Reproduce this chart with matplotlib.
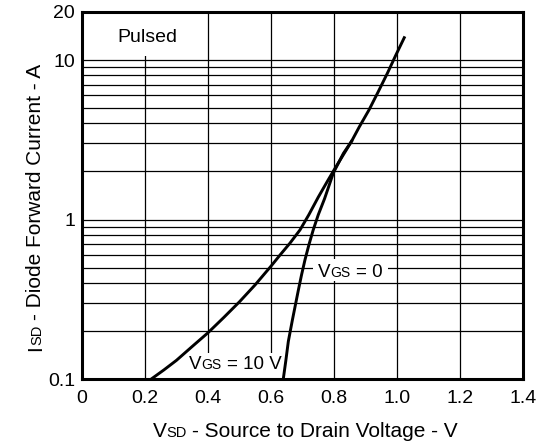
import matplotlib
matplotlib.use("Agg")
import matplotlib.pyplot as plt
from matplotlib.patches import Rectangle

plt.rcParams['font.family'] = ['Liberation Sans', 'DejaVu Sans']

# Data (V_SD in volts, I_SD in amps)
vsd_10v = [0.22, 0.26, 0.30, 0.35, 0.40, 0.45, 0.50, 0.55, 0.60, 0.629, 0.66, 0.692,
           0.72, 0.75, 0.78, 0.803, 0.84, 0.856, 0.88, 0.911, 0.94, 0.97, 0.995, 1.023]
isd_10v = [0.10, 0.114, 0.131, 0.16, 0.195, 0.243, 0.305, 0.39, 0.51, 0.60, 0.71, 0.86,
           1.07, 1.38, 1.75, 2.09, 2.75, 3.1, 3.8, 4.86, 6.3, 8.3, 10.6, 13.8]

vsd_0v = [0.639, 0.647, 0.655, 0.668, 0.678, 0.687, 0.697, 0.708, 0.72, 0.734,
          0.75, 0.77, 0.798, 0.83, 0.856]
isd_0v = [0.10, 0.13, 0.172, 0.235, 0.295, 0.362, 0.45, 0.56, 0.69, 0.86,
          1.07, 1.35, 1.96, 2.6, 3.1]

x_ticks = [0, 0.2, 0.4, 0.6, 0.8, 1.0, 1.2, 1.4]
x_ticklabels = ['0', '0.2', '0.4', '0.6', '0.8', '1.0', '1.2', '1.4']
y_ticks = [0.1, 1, 10, 20]
y_ticklabels = ['0.1', '1', '10', '20']
h_grid = [0.2, 0.3, 0.4, 0.5, 0.6, 0.7, 0.8, 0.9, 1, 2, 3, 4, 5, 6, 7, 8, 9, 10]
v_grid = [0.2, 0.4, 0.6, 0.8, 1.0, 1.2]

W, H = 552, 446
fig = plt.figure(figsize=(W / 100, H / 100), dpi=100)
ax = fig.add_axes([82 / W, 1 - 379 / H, (523 - 82) / W, (379 - 12) / H])
ax.set_yscale('log')
ax.set_xlim(0, 1.4)
ax.set_ylim(0.1, 20)

for v in v_grid:
    ax.axvline(v, color='black', lw=0.9, zorder=1)
for h in h_grid:
    ax.axhline(h, color='black', lw=0.9, zorder=1)

ax.plot(vsd_10v, isd_10v, color='black', lw=2.1, zorder=5, solid_joinstyle='round')
ax.plot(vsd_0v, isd_0v, color='black', lw=2.1, zorder=5, solid_joinstyle='round')

ax.set_xticks(x_ticks)
ax.set_xticklabels(x_ticklabels)
ax.set_yticks(y_ticks)
ax.set_yticklabels(y_ticklabels)
ax.minorticks_off()
ax.tick_params(length=0, labelsize=14, pad=8)
ax.tick_params(axis='y', pad=5)
for sp in ax.spines.values():
    sp.set_linewidth(2.2)

# white area behind "Pulsed"
ax.add_patch(Rectangle((0, 10.6), 0.3, 9.4, facecolor='white', edgecolor='none', zorder=2))
ax.text(0.112, 13.0, 'Pulsed', fontsize=14, ha='left', va='baseline', zorder=3)

fig.canvas.draw()
r = fig.canvas.get_renderer()


def rich(parts, x0, y0, rotation=0, zorder=3):
    # parts: (text, size, gap after in px); x0 start / y0 baseline in pixels from top-left
    texts = []
    pos = 0
    for s, size, gap in parts:
        if rotation == 0:
            t = fig.text((x0 + pos) / W, 1 - y0 / H, s, fontsize=size,
                         ha='left', va='baseline', zorder=zorder)
        else:
            t = fig.text(x0 / W, 1 - (y0 - pos) / H, s, fontsize=size, rotation=90,
                         rotation_mode='anchor', ha='left', va='baseline', zorder=zorder)
        ext = t.get_window_extent(r)
        pos += (ext.width if rotation == 0 else ext.height) + gap
        texts.append(t)
    return texts, pos


def centered(parts, xc, yc, rotation=0):
    texts, total = rich(parts, 0, 0, rotation)
    for t in texts:
        t.remove()
    if rotation == 0:
        rich(parts, xc - total / 2, yc)
    else:
        rich(parts, xc, yc + total / 2, rotation=90)


centered([('V', 15, 0), ('SD', 10.5, 5), ('- Source to Drain Voltage - V', 15, 0)], 305, 437)
centered([('I', 15, 0), ('SD', 10.5, 5), ('- Diode Forward Current - A', 15, 0)], 41, 207, rotation=90)

# curve labels with white background
ax.add_patch(Rectangle((0.733, 0.412), 0.238, 0.153, facecolor='white', edgecolor='none', zorder=2))
rich([('V', 13.5, 0), ('GS', 10, 5), ('= 0', 13.5, 0)], 318, 277)
ax.add_patch(Rectangle((0.335, 0.1), 0.29, 0.046, facecolor='white', edgecolor='none', zorder=2))
rich([('V', 13.5, 0), ('GS', 10, 5), ('= 10 V', 13.5, 0)], 189, 369)

fig.savefig('out.png', dpi=100)
